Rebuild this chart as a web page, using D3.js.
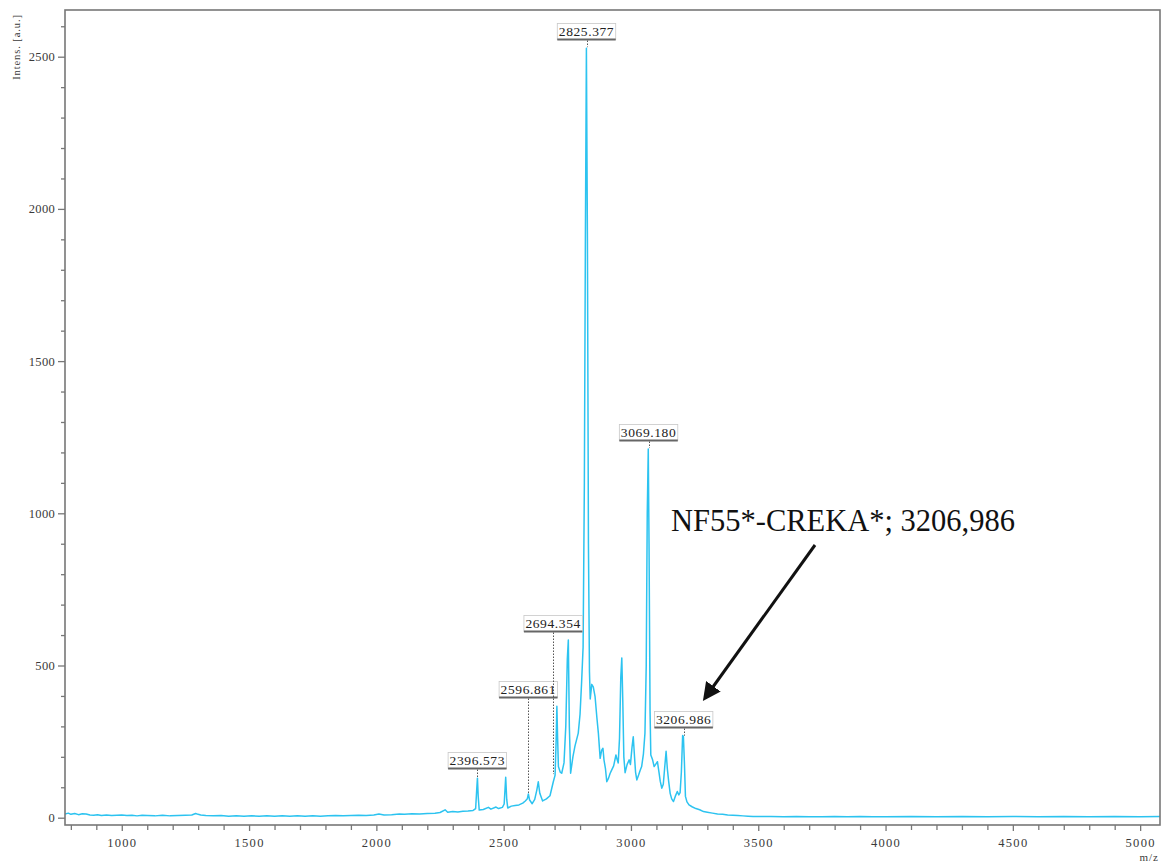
<!DOCTYPE html>
<html>
<head>
<meta charset="utf-8">
<script src="https://cdn.jsdelivr.net/npm/d3@7"></script>
<style>
  html, body { margin: 0; padding: 0; background: #fff; }
  svg { display: block; }
  text { font-family: "Liberation Serif", "DejaVu Serif", serif; }
</style>
</head>
<body>
<svg id="chart" width="1167" height="866"></svg>
<script>
// ---- data ----
const mzValues = [777,790,800,815,830,845,860,875,890,905,920,940,960,980,1000,1020,1040,1060,1080,1100,1130,1160,1190,1220,1250,1275,1290,1300,1310,1330,1360,1390,1420,1450,1480,1510,1540,1570,1600,1630,1660,1690,1720,1750,1780,1810,1840,1870,1900,1930,1960,1990,2010,2030,2060,2090,2110,2140,2170,2200,2230,2250,2270,2280,2300,2320,2340,2360,2380,2390,2394,2397,2400,2404,2420,2440,2450,2470,2480,2495,2502,2508,2512,2516,2530,2545,2560,2575,2585,2593,2597,2602,2612,2622,2630,2636,2642,2653,2668,2682,2695,2702,2706,2709,2712,2715,2722,2728,2737,2744,2750,2754,2758,2763,2772,2780,2793,2800,2806,2812,2817,2821,2825,2829,2833,2837,2840,2846,2852,2859,2866,2872,2879,2885,2890,2894,2900,2905,2912,2918,2925,2932,2941,2946,2950,2955,2960,2964,2968,2972,2977,2985,2993,2998,3004,3009,3014,3018,3023,3030,3036,3042,3049,3055,3060,3064,3068,3071,3075,3078,3085,3091,3097,3104,3110,3115,3121,3127,3132,3138,3143,3148,3154,3160,3167,3174,3182,3188,3193,3198,3203,3206,3210,3214,3220,3228,3240,3255,3270,3285,3300,3320,3340,3360,3380,3400,3420,3440,3460,3480,3500,3550,3600,3650,3700,3750,3800,3850,3900,3950,4000,4100,4200,4300,4400,4500,4600,4700,4800,4900,5000,5078];
const intensityValues = [12,15,11,14,10,13,12,9,8,10,7,9,7,8,9,7,8,6,8,7,6,8,6,7,8,9,14,11,9,7,6,7,5,6,5,6,5,6,5,6,5,6,5,6,5,6,7,6,7,8,7,9,12,9,10,12,11,13,12,14,15,17,26,18,20,19,21,22,24,30,90,130,70,25,27,34,28,35,30,34,45,133,60,32,38,40,42,48,55,62,78,58,46,60,90,118,80,55,62,72,118,140,250,366,260,168,150,146,180,300,520,584,300,146,200,235,278,340,442,560,1100,1900,2528,1900,900,480,390,438,430,398,330,278,195,222,228,190,160,118,130,145,158,170,206,190,180,260,460,525,380,200,148,175,190,175,230,266,200,150,124,140,155,168,210,278,500,1000,1211,900,350,206,190,168,175,184,150,120,97,110,160,218,160,120,80,62,53,70,86,75,82,150,270,266,180,70,52,42,36,30,26,20,18,15,12,11,9,8,7,6,5,4,4,4,3,4,3,3,4,3,4,3,3,4,3,4,3,4,3,4,3,4,3,4];

const peakLabelMz = [2396.573, 2596.861, 2694.354, 2825.377, 3069.180, 3206.986];
const peakLabelIntensity = [130, 78, 140, 2528, 1211, 266];
const peakLabelText = ["2396.573", "2596.861", "2694.354", "2825.377", "3069.180", "3206.986"];

const xMajorTicks = [1000, 1500, 2000, 2500, 3000, 3500, 4000, 4500, 5000];
const yMajorTicks = [0, 500, 1000, 1500, 2000, 2500];

const annotationText = "NF55*-CREKA*; 3206,986";
const xAxisTitle = "m/z";
const yAxisTitle = "Intens. [a.u.]";

// ---- layout ----
const svg = d3.select("#chart");
const L = 65, R = 1160, T = 10, B = 825;
const x = d3.scaleLinear().domain([777, 5078]).range([L, R]);
const y = d3.scaleLinear().domain([0, 2500]).range([817.7, 56.7]);

const axisColor = "#777";
const textColor = "#3a3a3a";
const lineColor = "#2cc3f0";

const spectrum = mzValues.map((m, i) => ({ mz: m, v: intensityValues[i] }));
const bis = d3.bisector(d => d.mz).left;
function valueAt(m) {
  const i = bis(spectrum, m);
  if (i <= 0) return spectrum[0].v;
  if (i >= spectrum.length) return spectrum[spectrum.length - 1].v;
  const a = spectrum[i - 1], b = spectrum[i];
  return a.v + (b.v - a.v) * (m - a.mz) / (b.mz - a.mz);
}

const defs = svg.append("defs");
defs.append("clipPath").attr("id", "clip")
  .append("rect").attr("x", L).attr("y", T).attr("width", R - L).attr("height", B - T);

// spectrum line
svg.append("path")
  .datum(spectrum)
  .attr("clip-path", "url(#clip)")
  .attr("fill", "none")
  .attr("stroke", lineColor)
  .attr("stroke-width", 1.5)
  .attr("stroke-linejoin", "round")
  .attr("d", d3.line().x(d => x(d.mz)).y(d => y(d.v)));

// frame
svg.append("rect")
  .attr("x", L).attr("y", T).attr("width", R - L).attr("height", B - T)
  .attr("fill", "none").attr("stroke", axisColor).attr("stroke-width", 1.6);

// x axis
const xMinor = d3.range(800, 5078, 100).filter(v => !xMajorTicks.includes(v));
const xMinorAxis = svg.append("g").attr("transform", `translate(0,${B})`)
  .call(d3.axisBottom(x).tickValues(xMinor).tickSize(5).tickFormat(""));
const xMajorAxis = svg.append("g").attr("transform", `translate(0,${B})`)
  .call(d3.axisBottom(x).tickValues(xMajorTicks).tickSize(6).tickPadding(7).tickFormat(d3.format("d")));
[xMinorAxis, xMajorAxis].forEach(g => {
  g.select(".domain").remove();
  g.selectAll(".tick line").attr("stroke", axisColor).attr("stroke-width", 1.3);
});
xMajorAxis.selectAll(".tick text")
  .attr("fill", textColor).attr("font-size", 12.5).attr("letter-spacing", 1.3)
  .attr("font-family", "Liberation Serif");

// y axis
const yMinor = d3.range(100, 2700, 100).filter(v => !yMajorTicks.includes(v));
const yMinorAxis = svg.append("g").attr("transform", `translate(${L},0)`)
  .call(d3.axisLeft(y).tickValues(yMinor).tickSize(4).tickFormat(""));
const yMajorAxis = svg.append("g").attr("transform", `translate(${L},0)`)
  .call(d3.axisLeft(y).tickValues(yMajorTicks).tickSize(7).tickPadding(3).tickFormat(d3.format("d")));
[yMinorAxis, yMajorAxis].forEach(g => {
  g.select(".domain").remove();
  g.selectAll(".tick line").attr("stroke", axisColor).attr("stroke-width", 1.3);
});
yMajorAxis.selectAll(".tick text")
  .attr("fill", textColor).attr("font-size", 12.5).attr("letter-spacing", 0.3)
  .attr("font-family", "Liberation Serif");

// axis titles
svg.append("text").text(xAxisTitle)
  .attr("x", R - 1).attr("y", 861).attr("text-anchor", "end")
  .attr("font-size", 11).attr("letter-spacing", 1).attr("fill", textColor);
svg.append("text").text(yAxisTitle)
  .attr("transform", `translate(20,47) rotate(-90)`)
  .attr("text-anchor", "middle")
  .attr("font-size", 10.5).attr("letter-spacing", 0.9).attr("fill", textColor);

// peak labels: each label sits just above the spectrum envelope under its own span
const labelG = svg.append("g");
peakLabelMz.forEach((m, i) => {
  const cx = x(m);
  const g = labelG.append("g");
  const t = g.append("text").text(peakLabelText[i])
    .attr("x", cx).attr("text-anchor", "middle")
    .attr("font-size", 13.5).attr("letter-spacing", 0.6)
    .attr("fill", "#222");
  const w = t.node().getComputedTextLength() + 3;
  const lo = x.invert(cx - w / 2), hi = x.invert(cx + w / 2);
  const inside = spectrum.filter(d => d.mz >= lo && d.mz <= hi).map(d => d.v);
  const maxV = d3.max([valueAt(lo), valueAt(hi), ...inside]);
  const uy = Math.round(y(maxV) - 9) + 0.5;
  t.attr("y", uy - 4);
  g.insert("rect", "text")
    .attr("x", cx - w / 2).attr("y", uy - 16).attr("width", w).attr("height", 16)
    .attr("fill", "#fff").attr("stroke", "#c8c8c8").attr("stroke-width", 0.8);
  g.append("line")
    .attr("x1", cx - w / 2).attr("x2", cx + w / 2).attr("y1", uy).attr("y2", uy)
    .attr("stroke", "#666").attr("stroke-width", 2);
  g.append("line")
    .attr("x1", Math.round(cx) + 0.5).attr("x2", Math.round(cx) + 0.5)
    .attr("y1", uy + 1).attr("y2", y(peakLabelIntensity[i]) - 1)
    .attr("stroke", "#555").attr("stroke-width", 1).attr("stroke-dasharray", "1.5,1.5");
});

// annotation text + arrow
svg.append("text").text(annotationText)
  .attr("x", 671).attr("y", 531)
  .attr("font-size", 30.5).attr("fill", "#111");

defs.append("marker").attr("id", "arrow")
  .attr("viewBox", "0 0 10 10").attr("refX", 8).attr("refY", 5)
  .attr("markerWidth", 6).attr("markerHeight", 6).attr("orient", "auto")
  .append("path").attr("d", "M0,0 L10,5 L0,10 Z").attr("fill", "#111");
svg.append("line")
  .attr("x1", 815).attr("y1", 545).attr("x2", 705).attr("y2", 698)
  .attr("stroke", "#111").attr("stroke-width", 3)
  .attr("marker-end", "url(#arrow)");
</script>
</body>
</html>
